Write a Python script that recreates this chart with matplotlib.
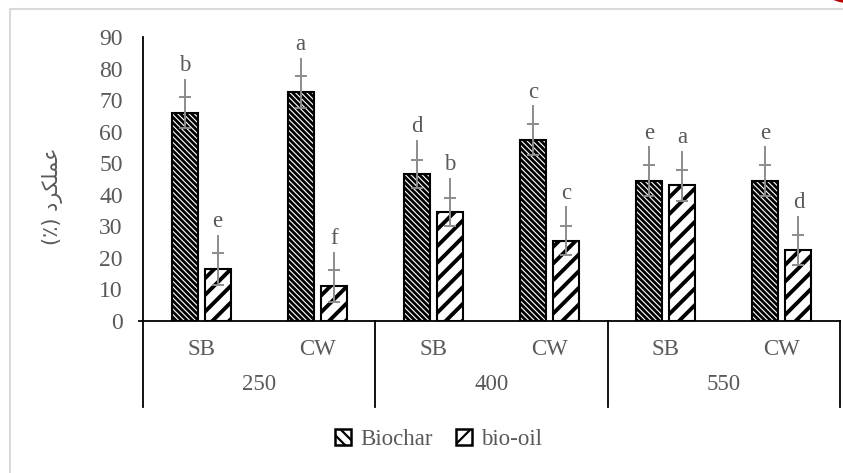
"""Yield of biochar and bio-oil at three pyrolysis temperatures (SB / CW feeds)."""

import matplotlib
matplotlib.use("Agg")
import matplotlib.pyplot as plt
import numpy as np
from matplotlib.patches import Circle, Patch, Rectangle

# -- data ---------------------------------------------------------------------
feeds = ["SB", "CW", "SB", "CW", "SB", "CW"]
temps = ["250", "400", "550"]
biochar = [66, 72.5, 46.5, 57.5, 44.5, 44.5]
biooil = [16.5, 11, 34.5, 25.5, 43, 22.5]
biochar_err = [5, 5, 4.5, 5, 5, 5]
biooil_err = [5, 5, 4.5, 4.7, 5, 4.8]
biochar_letters = ["b", "a", "d", "c", "e", "e"]
biooil_letters = ["e", "f", "b", "c", "a", "d"]
yticks = list(range(0, 91, 10))

# -- style --------------------------------------------------------------------
SERIF = ["Liberation Serif", "DejaVu Sans"]
TXT = "#595959"
ERR = "#8c8c8c"
FS = 16.5

plt.rcParams.update({
    "font.family": SERIF,
    "font.size": FS,
    "text.color": TXT,
    "xtick.color": TXT,
    "ytick.color": TXT,
})

fig = plt.figure(figsize=(8.43, 4.73), dpi=100)
ax = fig.add_axes([0.1696, 0.3214, 0.8268, 0.6004])

x = np.arange(len(feeds))
off, w = 0.142, 0.224

plt.rcParams["hatch.linewidth"] = 2.0
ax.bar(x - off, biochar, w, color="white", edgecolor="black",
       linewidth=1.5, hatch="\\\\\\\\\\\\", zorder=2)
plt.rcParams["hatch.linewidth"] = 2.8
ax.bar(x + off, biooil, w, color="white", edgecolor="black",
       linewidth=1.5, hatch="//", zorder=2)

for xs, vals, errs, letters in ((x - off, biochar, biochar_err, biochar_letters),
                                (x + off, biooil, biooil_err, biooil_letters)):
    ax.errorbar(xs, vals, yerr=errs, fmt="none", ecolor=ERR, elinewidth=1.4,
                capsize=4.3, capthick=1.4, zorder=3)
    for xi, v, e, lab in zip(xs, vals, errs, letters):
        # leader line from the letter down to the bar top
        ax.plot([xi, xi], [v + e, v + 10.5], color=ERR, lw=1.4, zorder=3)
        ax.text(xi, v + 15, lab, ha="center", va="center", fontsize=FS, color=TXT)

ax.set_xlim(-0.5, len(feeds) - 0.5)
ax.set_ylim(0, 90)
ax.set_yticks(yticks)
ax.tick_params(axis="y", length=0, pad=14.5, labelsize=17)
ax.set_xticks([])
for side in ("top", "right"):
    ax.spines[side].set_visible(False)
for side in ("left", "bottom"):
    ax.spines[side].set_linewidth(1.3)
    ax.spines[side].set_color("black")

# multi-level category axis
trans = ax.get_xaxis_transform()
for i, f in enumerate(feeds):
    ax.text(i, -0.102, f, transform=trans, ha="center", va="center", fontsize=FS, color=TXT)
for g, t in enumerate(temps):
    ax.text(2 * g + 0.5, -0.225, t, transform=trans, ha="center", va="center", fontsize=FS, color=TXT)
for xb in (-0.5, 1.5, 3.5, 5.5):
    ax.plot([xb, xb], [0, -0.303], transform=trans, color="black", lw=1.3, clip_on=False)
ax.plot([-0.5, -0.53], [0, 0], transform=trans, color="black", lw=1.3, clip_on=False)

# y label (Persian, pre-shaped and in visual order)
ylabel = "(\u066a) \uFEA9\uFEAE\uFB91\uFEE0\uFEE4\uFECB"
fig.text(0.062, 0.585, ylabel, rotation=90, ha="center", va="center",
         fontsize=15, color=TXT, family=["DejaVu Sans"])

# legend proxies with lighter hatching so the small squares stay readable
plt.rcParams["hatch.linewidth"] = 1.6
h1 = Patch(facecolor="white", edgecolor="black", linewidth=1.8, hatch="\\\\\\", label="Biochar")
h2 = Patch(facecolor="white", edgecolor="black", linewidth=1.8, hatch="//", label="bio-oil")
fig.legend(handles=[h1, h2], loc="center", bbox_to_anchor=(0.52, 0.07),
           ncol=2, frameon=False, fontsize=FS, handlelength=0.7, handleheight=0.7,
           handletextpad=0.4, columnspacing=1.0, labelcolor=TXT)

# chart-area frame and corner mark
fig.patches.append(Rectangle((10 / 843, -0.1), 1.2, 1.1 - 9 / 473, transform=fig.transFigure,
                             fill=False, edgecolor="#d9d9d9", lw=1.5))
fig.patches.append(Circle((852 / 843, 1 + 14 / 473), 30 / 843, transform=fig.transFigure,
                          color="#c00000", zorder=5))

fig.savefig("out.png", dpi=100)
